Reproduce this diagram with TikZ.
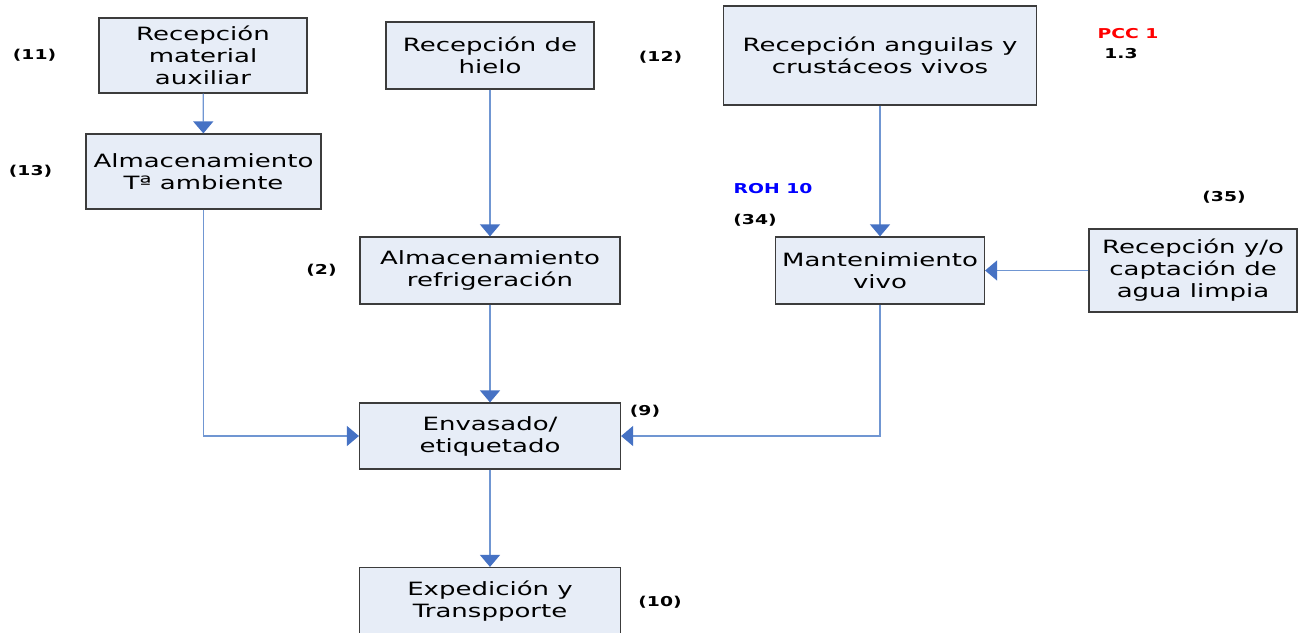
\documentclass[tikz,border=0pt]{standalone}
\usepackage{fontspec}
\usetikzlibrary{arrows.meta}
\newfontfamily\boxfont[FakeStretch=1.42]{DejaVu Sans}
\newfontfamily\labfont[FakeStretch=1.38]{DejaVu Sans}
\definecolor{boxfill}{RGB}{231,237,247}
\definecolor{boxline}{RGB}{60,60,60}
\definecolor{conn}{RGB}{112,150,210}
\definecolor{tipc}{RGB}{70,114,196}
\definecolor{rohblue}{RGB}{0,0,255}
\definecolor{pccred}{RGB}{255,0,0}
\tikzset{
  procbox/.style={draw=boxline, fill=boxfill, line width=1.2pt, rectangle, align=center,
    inner sep=0pt, font=\boxfont\fontsize{18.3}{22}\selectfont},
  flow/.style={draw=conn, line width=1.3pt, -{Triangle[width=20pt,length=12pt,fill=tipc,color=tipc]}},
  lab/.style={font=\labfont\bfseries\fontsize{13.6}{15}\selectfont, inner sep=0pt}
}
\begin{document}
\begin{tikzpicture}[x=1pt,y=-1pt]
\useasboundingbox (0,0) rectangle (1301,632);
\fill[white] (0,0) rectangle (1301,632);
% boxes
\node[procbox, minimum width=208pt, minimum height=75pt] (aux) at (203,55.5) {Recepción\\material\\auxiliar};
\node[procbox, minimum width=208pt, minimum height=67pt] (hielo) at (490,55.5) {Recepción de\\hielo};
\node[procbox, minimum width=313pt, minimum height=99pt] (angu) at (880,55.5) {Recepción anguilas y\\crustáceos vivos};
\node[procbox, minimum width=235pt, minimum height=75pt] (almamb) at (203.5,171.5) {Almacenamiento\\Tª ambiente};
\node[procbox, minimum width=260pt, minimum height=67pt] (almref) at (490,270.5) {Almacenamiento\\refrigeración};
\node[procbox, minimum width=209pt, minimum height=67pt] (mant) at (880,270.5) {Mantenimiento\\vivo};
\node[procbox, minimum width=208pt, minimum height=83pt] (agua) at (1193,270.5) {Recepción y/o\\captación de\\agua limpia};
\node[procbox, minimum width=261pt, minimum height=66pt] (envas) at (490,436) {Envasado/\\etiquetado};
\node[procbox, minimum width=261pt, minimum height=67pt] (exped) at (490,601) {Expedición y\\Transpporte};
% connectors
\draw[flow] (aux) -- (almamb);
\draw[flow] (hielo) -- (almref);
\draw[flow] (angu) -- (mant);
\draw[flow] (agua) -- (mant);
\draw[flow] (almref) -- (envas);
\draw[flow] (almamb.south) |- (envas.west);
\draw[flow] (mant.south) |- (envas.east);
\draw[flow] (envas) -- (exped);
% labels
\node[lab] (l11) at (34.5,55) {(11)};
\node[lab] (l13) at (30.5,171) {(13)};
\node[lab] (l12) at (660.5,57) {(12)};
\node[lab] (l2) at (321.5,270) {(2)};
\node[lab, text=pccred] (pcc) at (1128,34) {PCC 1};
\node[lab] (l13b) at (1121,54) {1.3};
\node[lab, text=rohblue] (roh) at (773,189) {ROH 10};
\node[lab] (l34) at (755,220) {(34)};
\node[lab] (l35) at (1224,197) {(35)};
\node[lab] (l9) at (645,411) {(9)};
\node[lab] (l10) at (660,602) {(10)};
\end{tikzpicture}
\end{document}
